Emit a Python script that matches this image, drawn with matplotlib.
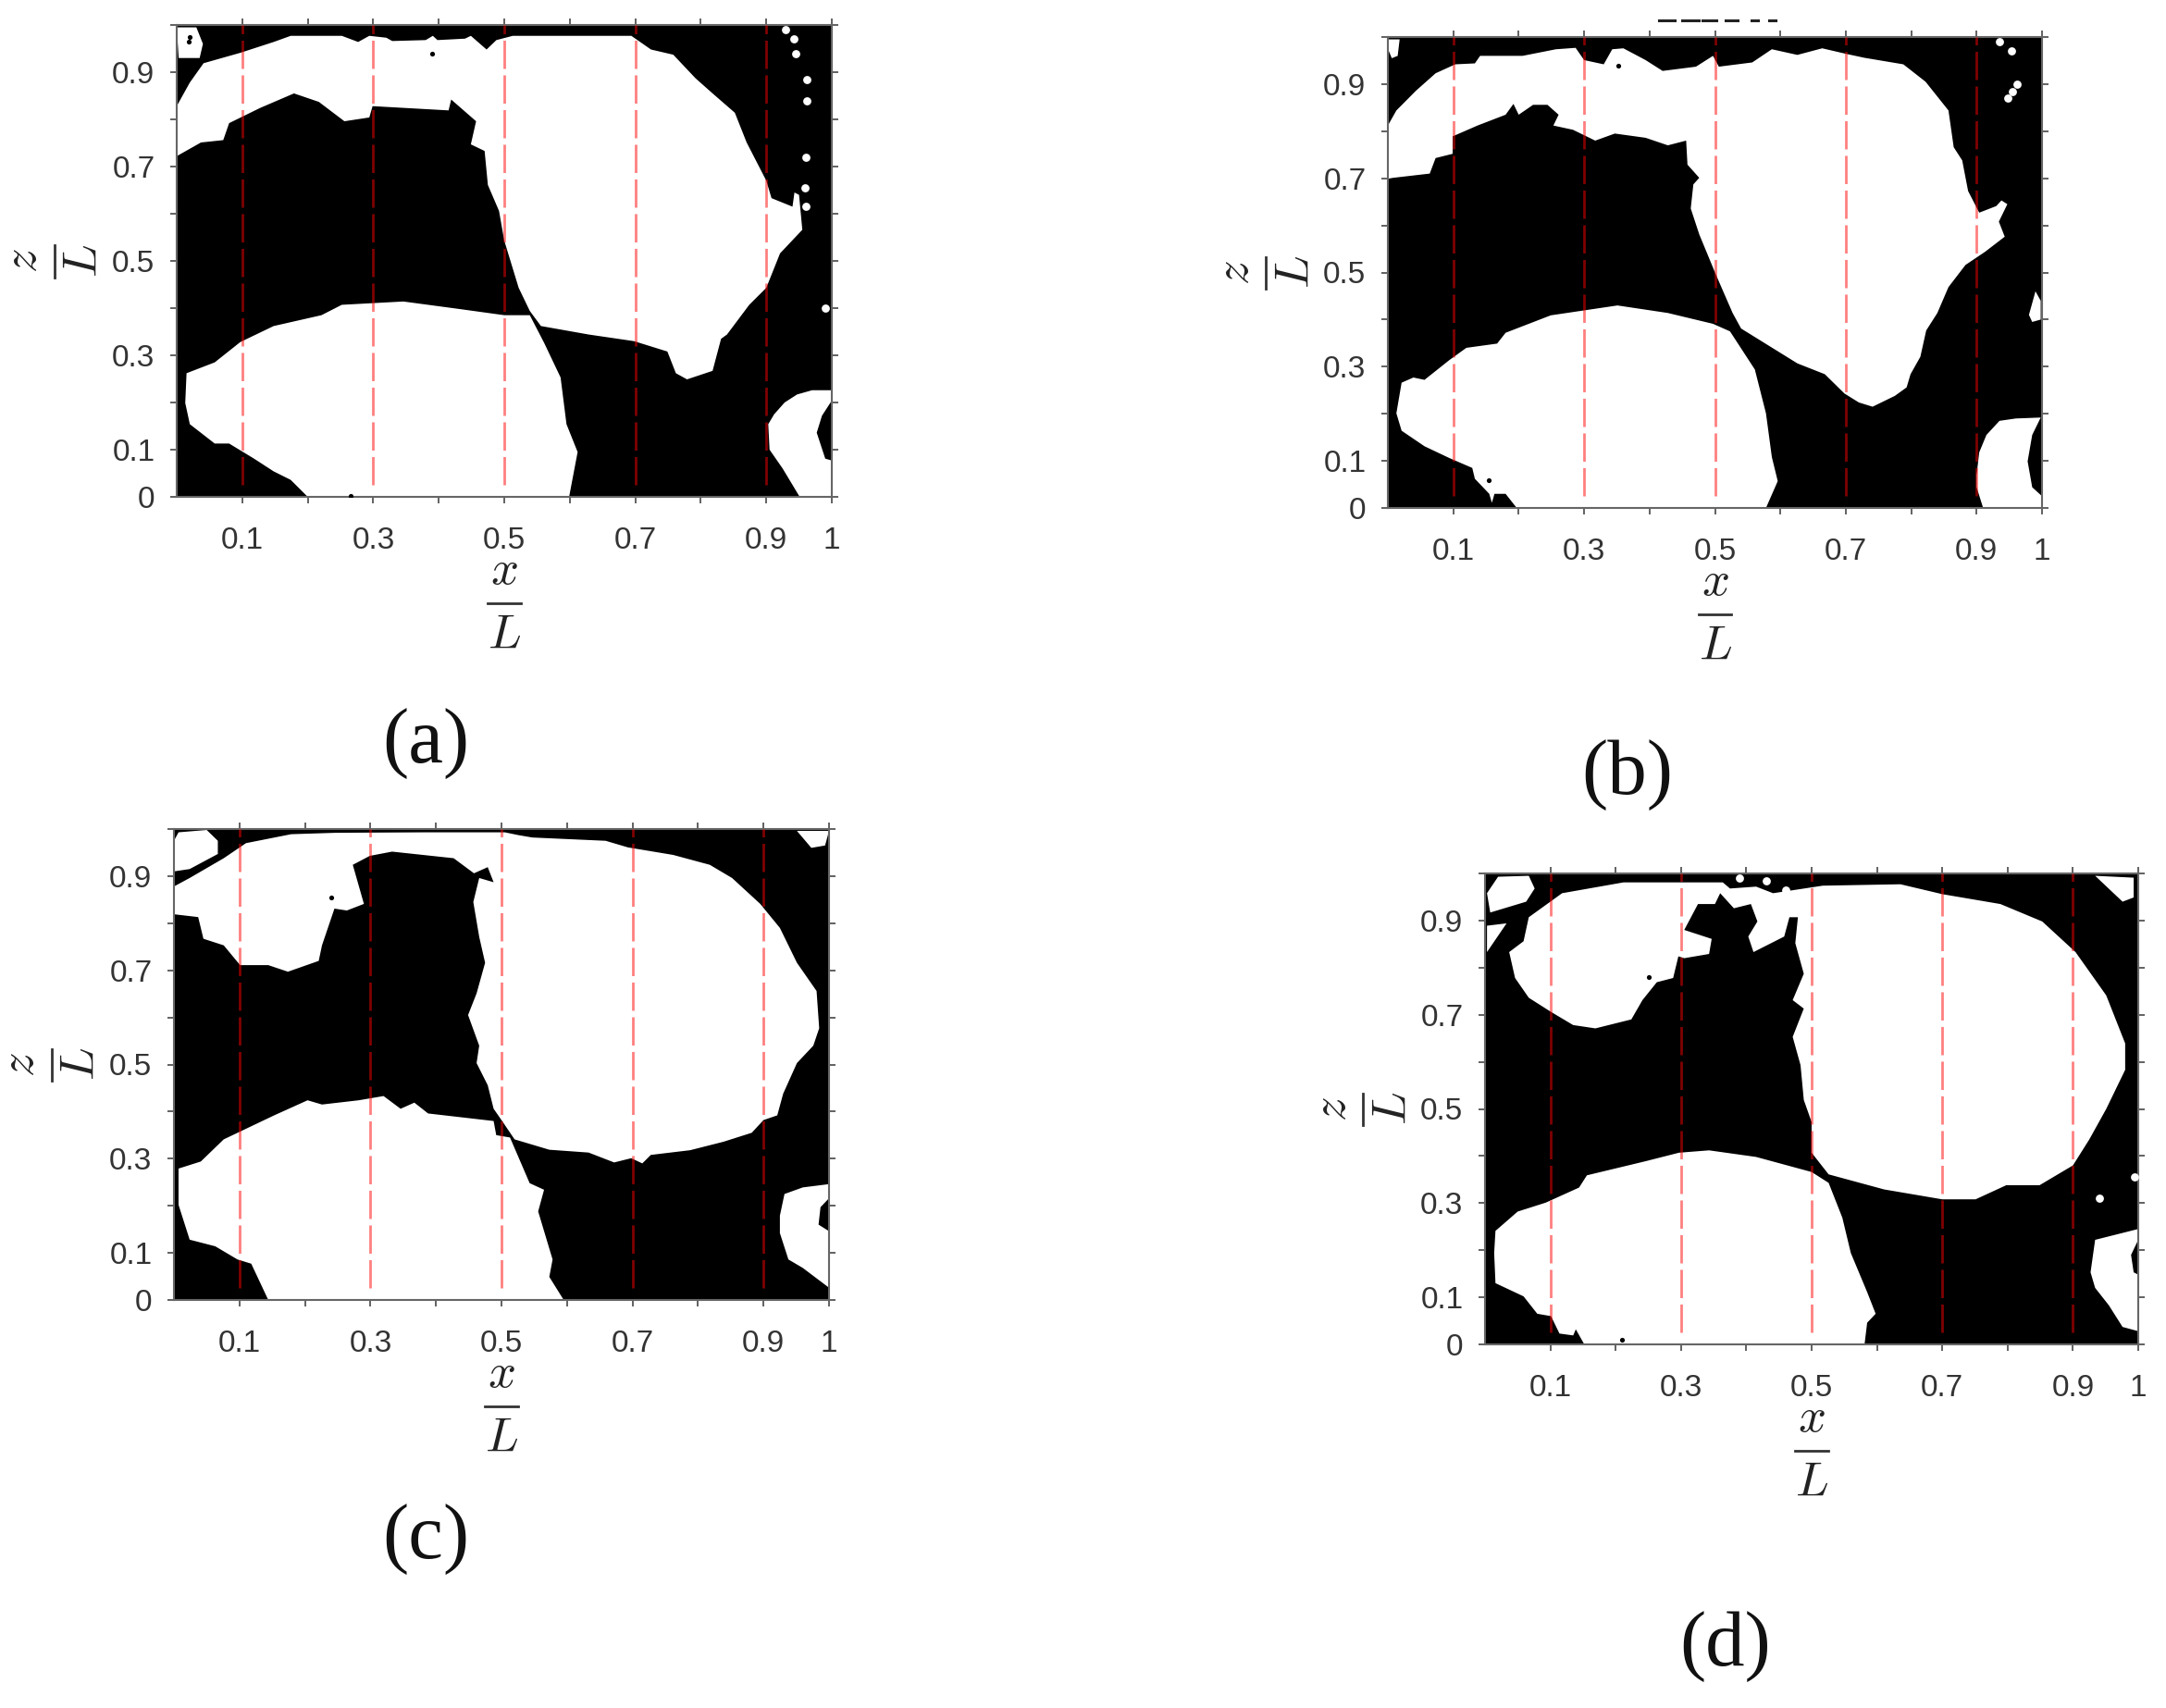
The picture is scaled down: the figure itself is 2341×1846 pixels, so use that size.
import matplotlib
matplotlib.use("Agg")
import matplotlib.pyplot as plt

W, H = 2341, 1846

xtick_vals = [0.1, 0.2, 0.3, 0.4, 0.5, 0.6, 0.7, 0.8, 0.9, 1.0]
xtick_labels = ["0.1", "", "0.3", "", "0.5", "", "0.7", "", "0.9", "1"]
ytick_vals = [0, 0.1, 0.2, 0.3, 0.4, 0.5, 0.6, 0.7, 0.8, 0.9, 1.0]
ytick_labels = ["0", "0.1", "", "0.3", "", "0.5", "", "0.7", "", "0.9", ""]
probe_x = [0.1, 0.3, 0.5, 0.7, 0.9]
probe_bottom = 0.025

# bits of a cropped title above panel b, in image pixels
title_scrap_start = [1793, 1818, 1840, 1865, 1893, 1912]
title_scrap_end = [1810, 1836, 1855, 1878, 1900, 1919]

# ---------- panel a ----------
a_upper = [(0, .828), (.02, .878), (.041, .919), (.097, .941), (.148, .964), (.174, .977), (.252, .977), (.277, .964),
           (.294, .977), (.32, .973), (.329, .966), (.38, .968), (.391, .977), (.398, .968), (.44, .971), (.449, .977),
           (.473, .948), (.488, .968), (.513, .977), (.694, .977), (.724, .948), (.758, .937), (.792, .887), (.818, .855),
           (.852, .814), (.87, .751), (.9, .67), (.908, .633), (.94, .615), (.943, .645), (.95, .64), (.955, .566),
           (.921, .516), (.9, .443), (.874, .407), (.84, .344), (.831, .335), (.818, .267), (.779, .249), (.762, .262),
           (.749, .308), (.698, .33), (.629, .344), (.556, .362), (.539, .394), (.522, .443), (.5, .543), (.492, .606),
           (.475, .661), (.47, .733), (.449, .747), (.457, .796), (.419, .842), (.415, .819), (.299, .828), (.294, .804),
           (.256, .796), (.217, .837), (.179, .855), (.127, .824), (.08, .792), (.071, .756), (.037, .751), (0, .722)]
a_lower = [(.015, .262), (.058, .285), (.097, .328), (.148, .362), (.221, .385), (.252, .407), (.346, .414), (.432, .398),
           (.5, .385), (.539, .385), (.561, .326), (.586, .253), (.595, .154), (.612, .095), (.599, 0), (.2, 0),
           (.174, .036), (.148, .054), (.118, .081), (.08, .113), (.058, .113), (.02, .154), (.013, .199)]
a_corner = [(.947, .217), (.97, .226), (1, .226), (1, .204), (.985, .172), (.977, .136), (.99, .081), (1, .077), (1, 0),
            (.951, 0), (.925, .06), (.905, .1), (.903, .154), (.912, .175), (.928, .2)]
a_extra = [[(0, .995), (.03, .995), (.04, .96), (.035, .93), (.003, .93)]]
a_white_x = [.93, .942, .945, .962, .962, .96, .959, .96, .99]
a_white_y = [.99, .97, .94, .885, .84, .72, .655, .615, .40]
a_black_x = [.39, .265, .02, .018]
a_black_y = [.94, .002, .975, .965]

# ---------- panel b ----------
b_upper = [(0, .812), (.013, .844), (.043, .886), (.073, .923), (.103, .942), (.133, .944), (.141, .96), (.206, .96),
           (.257, .974), (.287, .977), (.3, .951), (.33, .942), (.343, .974), (.36, .976), (.394, .951), (.42, .928),
           (.471, .937), (.497, .96), (.506, .937), (.557, .946), (.587, .974), (.626, .962), (.664, .976), (.698, .965),
           (.728, .956), (.788, .942), (.822, .905), (.857, .844), (.865, .766), (.878, .738), (.887, .673), (.904, .627),
           (.93, .641), (.938, .653), (.947, .645), (.934, .608), (.943, .576), (.913, .544), (.883, .516), (.857, .469),
           (.84, .414), (.823, .377), (.814, .321), (.799, .284), (.793, .256), (.775, .238), (.741, .215), (.72, .224),
           (.698, .243), (.668, .284), (.626, .307), (.583, .344), (.54, .381), (.527, .414), (.501, .497), (.476, .581),
           (.463, .636), (.467, .687), (.476, .701), (.458, .729), (.456, .78), (.428, .77), (.394, .786), (.347, .795),
           (.317, .78), (.283, .803), (.253, .812), (.261, .835), (.244, .856), (.222, .856), (.2, .835), (.192, .858),
           (.18, .835), (.137, .812), (.099, .789), (.099, .752), (.073, .743), (.064, .71), (.008, .701), (0, .699)]
b_lower = [(.021, .266), (.039, .277), (.056, .272), (.094, .314), (.12, .34), (.167, .349), (.18, .372), (.249, .409),
           (.351, .43), (.428, .414), (.497, .391), (.523, .375), (.561, .294), (.578, .201), (.587, .108), (.596, .057),
           (.578, 0), (.197, 0), (.18, .03), (.163, .03), (.159, .011), (.155, .03), (.133, .062), (.129, .085),
           (.094, .106), (.056, .131), (.021, .164), (.013, .201)]
b_corner = [(.935, .185), (.96, .19), (.998, .192), (.985, .155), (.978, .099), (.985, .044), (1, .025), (1, 0),
            (.91, 0), (.9, .044), (.9, .07), (.904, .118), (.915, .155)]
b_extra = [[(0, .995), (.018, .995), (.015, .96), (.006, .955), (0, .975)],
           [(.99, .46), (.998, .44), (.998, .40), (.985, .395), (.98, .41)]]
b_white_x = [.935, .953, .962, .955, .948]
b_white_y = [.99, .97, .9, .885, .87]
b_black_x = [.154, .352]
b_black_y = [.059, .94]

# ---------- panel c ----------
c_upper = [(0, .878), (.024, .896), (.076, .938), (.11, .97), (.179, .989), (.247, .992), (.384, .993), (.505, .993),
           (.526, .987), (.547, .982), (.659, .975), (.693, .961), (.762, .945), (.818, .924), (.852, .896), (.895, .841),
           (.925, .79), (.951, .716), (.981, .656), (.985, .577), (.976, .54), (.951, .503), (.93, .438), (.921, .392),
           (.9, .382), (.882, .355), (.839, .336), (.788, .318), (.728, .308), (.715, .29), (.698, .301), (.672, .292),
           (.633, .313), (.573, .319), (.52, .341), (.5, .382), (.488, .406), (.479, .456), (.462, .503), (.466, .54),
           (.449, .605), (.462, .651), (.475, .716), (.466, .771), (.457, .845), (.466, .896), (.488, .887), (.479, .919),
           (.458, .906), (.427, .938), (.333, .952), (.299, .943), (.273, .924), (.29, .841), (.264, .827), (.245, .831),
           (.226, .753), (.221, .72), (.174, .697), (.144, .711), (.101, .711), (.076, .753), (.045, .767), (.037, .813),
           (0, .819)]
c_lower = [(.007, .279), (.041, .294), (.076, .341), (.153, .392), (.204, .424), (.226, .415), (.282, .424), (.32, .433),
           (.346, .406), (.367, .419), (.388, .396), (.488, .38), (.492, .35), (.513, .345), (.543, .248), (.565, .234),
           (.556, .188), (.578, .086), (.573, .049), (.595, 0), (.144, 0), (.118, .077), (.097, .086), (.063, .114),
           (.024, .128), (.007, .202)]
c_corner = [(.932, .225), (.96, .239), (1, .246), (1, .216), (.987, .197), (.984, .16), (1, .146), (1, .026), (.96, .068),
            (.938, .086), (.925, .142), (.925, .179)]
c_extra = [[(.007, .993), (.05, .998), (.067, .975), (.067, .947), (.024, .915), (0, .91), (0, .975)],
           [(.951, .996), (1, .996), (.994, .965), (.973, .96)]]
c_white_x = []
c_white_y = []
c_black_x = [.24, .475]
c_black_y = [.855, .905]

# ---------- panel d ----------
d_upper = [(.037, .833), (.059, .856), (.067, .907), (.118, .958), (.212, .981), (.364, .981), (.375, .968), (.415, .972),
           (.441, .958), (.517, .974), (.636, .977), (.7, .956), (.789, .935), (.853, .898), (.904, .833), (.951, .741),
           (.98, .639), (.98, .583), (.951, .5), (.925, .435), (.9, .38), (.849, .338), (.798, .338), (.751, .308),
           (.7, .308), (.611, .329), (.526, .361), (.5, .407), (.5, .472), (.488, .519), (.483, .593), (.471, .653),
           (.488, .713), (.471, .731), (.488, .787), (.475, .852), (.479, .907), (.466, .907), (.458, .866), (.411, .833),
           (.403, .866), (.417, .898), (.407, .935), (.381, .926), (.36, .958), (.352, .935), (.326, .935), (.305, .88),
           (.347, .861), (.343, .829), (.305, .82), (.296, .824), (.288, .778), (.263, .769), (.241, .731), (.224, .69),
           (.169, .671), (.135, .678), (.101, .706), (.067, .736), (.046, .778)]
d_lower = [(.016, .241), (.05, .282), (.093, .301), (.144, .333), (.156, .359), (.246, .389), (.297, .407), (.343, .412),
           (.415, .398), (.5, .366), (.526, .343), (.547, .269), (.56, .194), (.585, .111), (.598, .065), (.585, .046),
           (.581, 0), (.152, 0), (.139, .032), (.135, .019), (.114, .023), (.101, .06), (.08, .065), (.059, .102),
           (.016, .13), (.014, .194)]
d_corner = [(.934, .222), (1, .245), (1, .222), (.989, .19), (.993, .153), (1, .148), (1, .028), (.976, .037), (.955, .083),
            (.934, .12), (.927, .153)]
d_extra = [[(.02, .993), (.067, .995), (.076, .968), (.063, .94), (.008, .917), (.003, .958)],
           [(.003, .889), (.033, .894), (.003, .833)],
           [(.934, .995), (.993, .991), (.993, .949), (.976, .94)]]
d_white_x = [.39, .43, .46, .994, .94]
d_white_y = [.99, .985, .965, .356, .31]
d_black_x = [.381, .25, .21]
d_black_y = [.875, .78, .01]

panels = [
    ("a", (191, 27, 708, 510), (460, 804), [a_upper, a_lower, a_corner] + a_extra, a_white_x, a_white_y, a_black_x, a_black_y),
    ("b", (1500, 40, 707, 509), (1759, 837), [b_upper, b_lower, b_corner] + b_extra, b_white_x, b_white_y, b_black_x, b_black_y),
    ("c", (188, 896, 708, 509), (460, 1663), [c_upper, c_lower, c_corner] + c_extra, c_white_x, c_white_y, c_black_x, c_black_y),
    ("d", (1605, 944, 706, 509), (1865, 1780), [d_upper, d_lower, d_corner] + d_extra, d_white_x, d_white_y, d_black_x, d_black_y),
]

plt.rcParams["mathtext.fontset"] = "cm"
plt.rcParams["font.family"] = ["Liberation Sans", "DejaVu Sans"]

fig = plt.figure(figsize=(W / 100, H / 100), dpi=100, facecolor="white")

for letter, box, label_pos, shapes, wx, wy, bx, by in panels:
    left, top, width, height = box
    ax = fig.add_axes([left / W, 1 - (top + height) / H, width / W, height / H], facecolor="black")
    for shape in shapes:
        ax.fill([p[0] for p in shape], [p[1] for p in shape], color="white", lw=0, zorder=2)
    ax.scatter(wx, wy, s=40, color="white", lw=0, zorder=3)
    ax.scatter(bx, by, s=14, color="black", lw=0, zorder=3)
    for xp in probe_x:
        ax.plot([xp, xp], [probe_bottom, 1], color="red", alpha=0.5, lw=2, dashes=(11, 2.5), zorder=4)
    ax.set_xlim(0, 1)
    ax.set_ylim(0, 1)
    ax.set_xticks(xtick_vals)
    ax.set_xticklabels(xtick_labels)
    ax.set_yticks(ytick_vals)
    ax.set_yticklabels(ytick_labels)
    ax.tick_params(axis="both", direction="out", length=5, width=1.3, color="#555555", labelcolor="#333333",
                   labelsize=24, top=True, right=True)
    ax.tick_params(axis="x", pad=18)
    ax.tick_params(axis="y", pad=12)
    for sp in ax.spines.values():
        sp.set_color("#666666")
        sp.set_linewidth(1.5)
    # fraction labels are spaced out wider than mathtext \frac does it
    ax.text(0.5, -0.157, "$x$", transform=ax.transAxes, ha="center", va="center", fontsize=38, color="#222222")
    ax.plot([0.475, 0.525], [-0.225, -0.225], transform=ax.transAxes, color="#333333", lw=2, clip_on=False)
    ax.text(0.5, -0.294, "$L$", transform=ax.transAxes, ha="center", va="center", fontsize=38, color="#222222")
    ax.text(-0.234, 0.5, "$z$", transform=ax.transAxes, ha="center", va="center", rotation=90, fontsize=38, color="#222222")
    ax.plot([-0.187, -0.187], [0.465, 0.533], transform=ax.transAxes, color="#333333", lw=2, clip_on=False)
    ax.text(-0.141, 0.5, "$L$", transform=ax.transAxes, ha="center", va="center", rotation=90, fontsize=38, color="#222222")
    fig.text(label_pos[0] / W, 1 - label_pos[1] / H, "(%s)" % letter, ha="center", va="center", fontsize=61,
             family="Liberation Serif", color="#111111")

for x0, x1 in zip(title_scrap_start, title_scrap_end):
    fig.add_artist(plt.Line2D([x0 / W, x1 / W], [1 - 22 / H, 1 - 22 / H], color="#222222", lw=2.2))

fig.savefig("out.png", dpi=100)
